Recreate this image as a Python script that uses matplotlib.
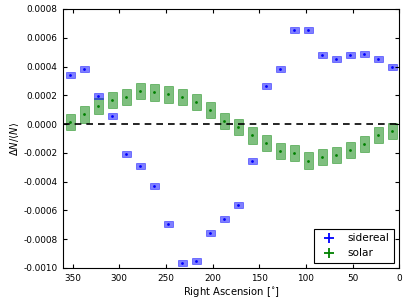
import numpy as np
import matplotlib
matplotlib.use('Agg')
import matplotlib.pyplot as plt
from matplotlib.lines import Line2D

# bin centres in right ascension (degrees)
ra = [352.5, 337.5, 322.5, 307.5, 292.5, 277.5, 262.5, 247.5, 232.5, 217.5, 202.5, 187.5,
      172.5, 157.5, 142.5, 127.5, 112.5, 97.5, 82.5, 67.5, 52.5, 37.5, 22.5, 7.5]

sidereal = [0.000343, 0.000380, 0.000195, 0.000054, -0.000209, -0.000292, -0.000427, -0.000696,
            -0.000962, -0.000953, -0.000754, -0.000661, -0.000559, -0.000255, 0.000262, 0.000380,
            0.000654, 0.000654, 0.000480, 0.000454, 0.000478, 0.000487, 0.000454, 0.000394]
sidereal_err = 0.000021

solar = [0.000016, 0.000067, 0.000125, 0.000165, 0.000190, 0.000232, 0.000220, 0.000206,
         0.000186, 0.000151, 0.000097, 0.000023, -0.000023, -0.000079, -0.000132, -0.000186,
         -0.000200, -0.000253, -0.000230, -0.000213, -0.000183, -0.000137, -0.000077, -0.000049]
solar_err = 0.000056

fig = plt.figure(figsize=(4.07, 3.02), dpi=100)
ax = fig.add_axes([0.1555, 0.1126, 0.8255, 0.8576])

ra = np.array(ra)
sidereal = np.array(sidereal)
solar = np.array(solar)

ax.bar(ra, 2 * solar_err, bottom=solar - solar_err, width=10, color='g', alpha=0.5,
       edgecolor='g', linewidth=0.6)
ax.bar(ra, 2 * sidereal_err, bottom=sidereal - sidereal_err, width=10, color='b', alpha=0.5,
       edgecolor='b', linewidth=0.6)
ax.plot(ra, solar, 'o', color='g', markersize=2, markeredgewidth=0)
ax.plot(ra, sidereal, 'o', color='b', markersize=2, markeredgewidth=0)

ax.axhline(0, color='k', linestyle='--', linewidth=1.2, dashes=(4, 3))

ax.set_xlim(360, 0)
ax.set_ylim(-0.0010, 0.0008)
ax.set_xticks([350, 300, 250, 200, 150, 100, 50, 0])
ax.set_yticks(np.arange(-0.0010, 0.00081, 0.0002))
ax.yaxis.set_major_formatter(matplotlib.ticker.FormatStrFormatter('%.4f'))
ax.tick_params(direction='in', top=True, right=True, length=3, labelsize=6.4, pad=4)
ax.set_xlabel('Right Ascension [$^{\\circ}$]', fontsize=7.2, labelpad=2)
ax.set_ylabel(r'$\Delta N/\langle N\rangle$', fontsize=7.2, labelpad=2)

handles = [Line2D([], [], color='b', marker='+', linestyle='none', markersize=7, markeredgewidth=1.3),
           Line2D([], [], color='g', marker='+', linestyle='none', markersize=7, markeredgewidth=1.3)]
leg = ax.legend(handles, ['sidereal', 'solar'], loc='lower right', fontsize=7.6, numpoints=1,
                fancybox=False, framealpha=1, edgecolor='k', borderaxespad=0.5, handletextpad=0.8)
leg.get_frame().set_linewidth(0.8)

fig.savefig('out.png', dpi=100)
